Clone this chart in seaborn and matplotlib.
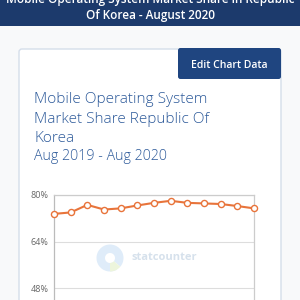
import numpy as np
import pandas as pd
import seaborn as sns
import matplotlib.pyplot as plt
from matplotlib.patches import Rectangle, FancyBboxPatch, Wedge

sns.set_style('white')
plt.rcParams['font.family'] = ['Open Sans', 'DejaVu Sans']

months = ['2019-08', '2019-09', '2019-10', '2019-11', '2019-12', '2020-01', '2020-02',
          '2020-03', '2020-04', '2020-05', '2020-06', '2020-07', '2020-08']
android = [73.5, 74.0, 76.6, 75.0, 75.4, 76.4, 77.3, 78.0, 77.3, 77.1, 76.9, 76.2, 75.4]
y_ticks = [48, 64, 80]
y_labels = ['48%', '64%', '80%']

df = pd.DataFrame({'idx': range(len(months)), 'month': months, 'share': android})

W = H = 300
fig = plt.figure(figsize=(3, 3), dpi=100, facecolor='#f8f9fa')

def px(x, y):
    # pixel coords (from top-left) to figure fraction
    return x / W, 1 - y / H

# header band
fig.patches.append(Rectangle(px(0, 26), 1, 26 / H, transform=fig.transFigure,
                             facecolor='#1c3a6c', edgecolor='none', zorder=0))
fig.text(0.5, 1 - 0 / H, 'Mobile Operating System Market Share in Republic', color='white',
         fontsize=8.5, fontweight='semibold', ha='center', va='center')
fig.text(0.5, 1 - 15 / H, 'Of Korea - August 2020', color='white',
         fontsize=8.5, fontweight='semibold', ha='center', va='center')

# card
fig.patches.append(FancyBboxPatch(px(19, 330), 262 / W, 281 / H, transform=fig.transFigure,
                                  boxstyle='round,pad=0,rounding_size=0.01',
                                  facecolor='white', edgecolor='#d5deea', linewidth=1, zorder=0))
# button
fig.patches.append(FancyBboxPatch(px(178, 79), 103 / W, 31 / H, transform=fig.transFigure,
                                  boxstyle='round,pad=0,rounding_size=0.008',
                                  facecolor='#1f4580', edgecolor='none', zorder=1))
fig.text(px(229.5, 0)[0], 1 - 65 / H, 'Edit Chart Data', color='white', fontsize=7.5,
         fontweight='semibold', ha='center', va='center')

# titles
title_col = '#2d5a9a'
for i, line in enumerate(['Mobile Operating System', 'Market Share Republic Of', 'Korea']):
    fig.text(34 / W, 1 - (100 + 19 * i) / H, line, color=title_col, fontsize=11.1,
             fontweight='light', ha='left', va='center')
fig.text(34 / W, 1 - 157 / H, 'Aug 2019 - Aug 2020', color=title_col, fontsize=10.3,
         fontweight='light', ha='left', va='center')

# watermark
wx, wy = px(110, 258)
fig.patches.append(Wedge((wx, wy), 13.5 / W, -40, 300, width=8.5 / W, transform=fig.transFigure,
                         facecolor='#dfecf9', edgecolor='none', zorder=0.5))
fig.patches.append(Wedge((wx, wy), 13.5 / W, -90, -40, width=8.5 / W, transform=fig.transFigure,
                         facecolor='#edf5dc', edgecolor='none', zorder=0.5))
fig.text(px(132, 0)[0], 1 - 257 / H, 'statcounter', color='#d6e1ec', fontsize=8.0,
         fontweight='bold', ha='left', va='center', zorder=0.6)

# plot area (runs past the bottom edge, like the cropped screenshot)
top, bottom = 195, 334.5
ax = fig.add_axes([54 / W, 1 - bottom / H, 200 / W, (bottom - top) / H])
ax.set_facecolor('none')
ax.set_zorder(3)

sns.lineplot(data=df, x='idx', y='share', ax=ax, color='#e8743b', linewidth=1.5,
             marker='o', markersize=4.4, markerfacecolor='white',
             markeredgecolor='#e8743b', markeredgewidth=1.0, clip_on=False, zorder=5)

ax.set_xlim(0, len(months) - 1)
ax.set_ylim(32, 80)
ax.set_yticks(y_ticks)
ax.set_yticklabels(y_labels)
ax.set_xticks([])
ax.set_xlabel('')
ax.set_ylabel('')
ax.grid(axis='y', color='#dddddd', linewidth=0.8)
ax.tick_params(axis='y', length=0, pad=4, labelsize=6.5, labelcolor='#666666')
for s in ax.spines.values():
    s.set_visible(True)
    s.set_color('#cccccc')
    s.set_linewidth(0.9)
ax.spines['left'].set_color('#bbbbbb')

fig.savefig('out.png', dpi=100, facecolor=fig.get_facecolor())
